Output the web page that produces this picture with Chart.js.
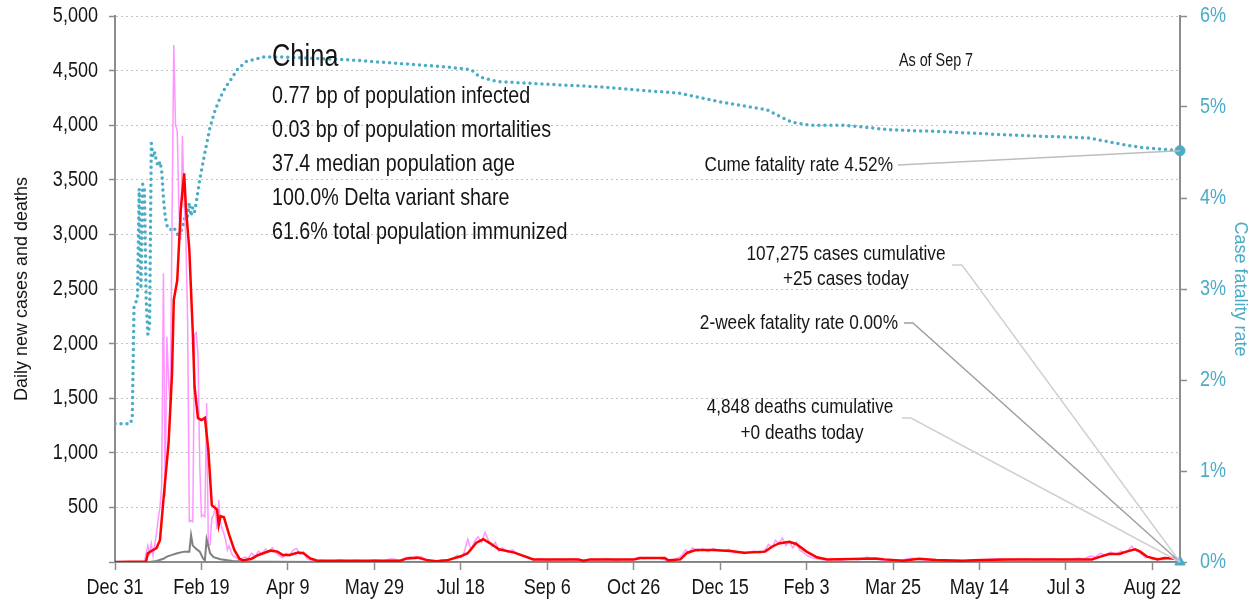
<!DOCTYPE html>
<html>
<head>
<meta charset="utf-8">
<script src="https://cdn.jsdelivr.net/npm/chart.js"></script>
<style>
  html, body { margin: 0; padding: 0; background: #fff; }
  #wrap { width: 1260px; height: 604px; }
</style>
</head>
<body>
<div id="wrap"><canvas id="chart" width="1260" height="604"></canvas></div>
<script>
// ---------- DATA (day 0 = Dec 31 2019) ----------
const tickLabels = ['Dec 31','Feb 19','Apr 9','May 29','Jul 18','Sep 6','Oct 26','Dec 15','Feb 3','Mar 25','May 14','Jul 3','Aug 22'];
const lastDay = 616;

// daily new cases (pink)
const caseDays = [0,10,17,19,20,21,22,23,24,25,26,27,28,29,30,31,32,33,34,35,36,37,38,39,40,41,42,43,44,45,46,47,48,49,50,51,52,53,54,55,56,57,58,59,60,61,62,63,64,65,66,67,68,70,72,75,77,79,81,83,85,87,89,91,93,95,97,99,101,103,105,107,109,111,113,116,120,125,130,135,140,145,150,155,160,165,168,171,174,177,180,183,186,189,192,195,198,200,202,204,206,208,210,212,214,216,218,220,222,224,227,230,233,236,239,242,246,250,255,260,265,270,275,280,285,290,295,300,303,306,310,315,320,325,328,330,332,334,337,340,343,346,349,352,355,358,361,364,367,370,373,376,378,380,382,384,386,388,390,392,394,396,398,400,403,406,410,415,420,425,430,435,438,442,447,452,457,462,467,472,477,482,487,492,497,502,507,512,517,522,527,532,537,542,547,552,557,561,564,567,570,573,576,579,582,585,588,590,592,594,596,598,600,603,606,609,612,614,616];
const dailyCases = [0,0,5,150,80,170,60,160,260,400,500,700,2645,600,2063,1650,1400,3160,4735,4000,3950,3200,2950,3900,3300,2960,2200,370,380,370,2080,2100,1900,900,415,430,415,1455,150,160,400,430,500,300,570,360,300,260,200,110,150,100,60,40,20,45,30,80,50,100,70,120,90,130,85,60,40,80,55,110,125,70,95,30,20,10,15,8,20,10,15,8,20,12,30,15,40,45,30,50,20,10,5,20,10,30,60,40,90,210,110,190,230,180,270,200,140,180,100,130,90,110,70,55,40,20,30,15,25,20,30,10,25,20,30,15,25,20,45,30,40,35,10,30,60,110,80,130,100,120,95,125,105,100,115,85,90,75,90,100,80,110,160,130,200,170,220,150,190,130,180,110,90,60,40,30,20,25,15,30,20,45,30,20,15,10,25,35,20,15,20,10,15,10,20,15,25,30,20,25,30,20,25,30,20,25,35,30,55,45,80,60,90,70,100,85,146,110,95,70,40,50,25,35,20,40,45,30,25];

// 7-day average cases (red)
const avgDays = [0,18,19,22,24,26,28,31,33,34,36,38,40,41,43,45,46,48,50,52,54,56,59,60,61,63,66,69,72,74,79,83,90,94,97,101,106,109,113,117,165,169,175,181,186,192,200,204,209,213,217,222,231,242,268,271,275,300,304,318,320,327,331,336,346,356,364,376,380,384,390,394,400,406,412,440,445,456,465,475,490,501,517,565,570,575,581,585,590,593,597,603,607,613,616];
const avgCases = [0,5,80,110,128,200,568,1090,1730,2400,2580,3220,3560,3250,2857,2100,1605,1317,1300,1320,1025,520,480,340,420,410,250,110,30,15,30,64,104,95,64,64,86,80,33,12,12,33,40,15,8,15,52,80,177,208,171,116,86,24,24,12,24,24,37,37,15,24,85,110,110,100,85,95,140,170,186,165,95,43,24,33,24,12,30,18,12,18,24,24,49,73,73,95,116,95,49,24,37,30,5];

// daily deaths (gray)
const deathDays = [0,20,24,28,30,33,36,40,43,44,45,47,49,51,52,53,55,57,61,68,75,90,120,616];
const dailyDeaths = [0,0,10,30,50,65,80,95,95,247,150,120,95,30,15,208,80,45,25,10,5,3,0,0];

// cumulative case fatality rate, % (teal, right axis)
const cfrDays = [0,9,10,11,12,13,14,15,16,17,18,19,20,21,22,23,24,25,26,27,28,29,30,32,34,36,38,40,41,42,43,44,45,46,47,49,52,55,58,61,64,67,71,76,86,96,134,192,206,211,221,240,281,327,349,377,383,392,402,422,448,477,520,563,585,596,616];
const cfrRates = [1.52,1.52,1.6,2.8,2.85,2.9,4.1,3.0,4.15,4.1,2.9,2.5,2.6,4.6,4.45,4.5,4.4,4.35,4.4,4.3,4.0,3.8,3.7,3.65,3.68,3.6,3.62,3.75,3.85,3.8,3.95,3.8,3.9,3.85,3.95,4.2,4.5,4.78,4.97,5.11,5.22,5.30,5.42,5.50,5.55,5.55,5.52,5.44,5.41,5.33,5.28,5.26,5.22,5.15,5.06,4.97,4.91,4.83,4.80,4.80,4.75,4.73,4.69,4.66,4.58,4.55,4.52];

const cumeRate = 4.52;
const twoWeekRate = 0.00;

const statLines = [
  '0.77 bp of population infected',
  '0.03 bp of population mortalities',
  '37.4 median population age',
  '100.0% Delta variant share',
  '61.6% total population immunized'
];

// ---------- helpers ----------
const SANS = "'Liberation Sans', Arial, sans-serif";
const TEAL = '#4bacc6';
const AXIS = '#8c8c8c';
const INK = '#151515';

function pairs(xs, ys) {
  return xs.map((d, i) => ({ x: d, y: ys[i] }));
}

// Arial-Narrow look: Liberation Sans squeezed horizontally
function narrow(ctx, text, x, y, size, align, color) {
  ctx.save();
  ctx.translate(x, y);
  ctx.scale(0.82, 1);
  ctx.font = `${size}px ${SANS}`;
  ctx.textAlign = align;
  ctx.textBaseline = 'middle';
  ctx.fillStyle = color || INK;
  ctx.fillText(text, 0, 0);
  ctx.restore();
}

const notesPlugin = {
  id: 'notes',
  afterDraw(chart) {
    const { ctx, scales: { x, y, y2 } } = chart;
    const ex = x.getPixelForValue(lastDay);
    const ey = y2.getPixelForValue(twoWeekRate);
    const cy = y2.getPixelForValue(cumeRate);

    // tick labels
    x.ticks.forEach(t => {
      narrow(ctx, tickLabels[Math.round(t.value / 50)] || '', x.getPixelForValue(t.value), 588, 22, 'center');
    });
    y.ticks.forEach(t => {
      if (t.value === 0) return;
      narrow(ctx, t.value.toLocaleString('en-US'), 98, y.getPixelForValue(t.value), 22, 'right');
    });
    y2.ticks.forEach(t => {
      narrow(ctx, t.value + '%', 1200, y2.getPixelForValue(t.value), 22, 'left', TEAL);
    });

    ctx.save();
    // leader lines
    function leader(x0, x1, yy, color) {
      ctx.beginPath();
      ctx.strokeStyle = color;
      ctx.lineWidth = 1.5;
      ctx.moveTo(x0, yy);
      ctx.lineTo(x1, yy);
      ctx.lineTo(ex, ey);
      ctx.stroke();
    }
    leader(952, 962, 265, '#d0d0d0');
    leader(904, 913, 323, '#a0a0a0');
    leader(902, 911, 418, '#d0d0d0');
    ctx.beginPath();
    ctx.strokeStyle = '#bdbdbd';
    ctx.lineWidth = 1.5;
    ctx.moveTo(898, 165);
    ctx.lineTo(ex, cy);
    ctx.stroke();
    ctx.restore();

    // title + stats
    narrow(ctx, 'China', 272, 57, 31, 'left');
    statLines.forEach((s, i) => narrow(ctx, s, 272, 96 + i * 34, 24, 'left'));

    // right-hand notes
    narrow(ctx, 'As of Sep 7', 936, 61, 17.5, 'center');
    narrow(ctx, 'Cume fatality rate ' + cumeRate.toFixed(2) + '%', 893, 165, 21, 'right');
    narrow(ctx, '2-week fatality rate ' + twoWeekRate.toFixed(2) + '%', 898, 323, 21, 'right');
    narrow(ctx, '107,275 cases cumulative', 846, 254, 21, 'center');
    narrow(ctx, '+25 cases today', 846, 279, 21, 'center');
    narrow(ctx, '4,848 deaths cumulative', 800, 407, 21, 'center');
    narrow(ctx, '+0 deaths today', 802, 433, 21, 'center');
  }
};

new Chart(document.getElementById('chart'), {
  type: 'line',
  data: {
    datasets: [
      { data: pairs(avgDays, avgCases), borderColor: '#ff0000', borderWidth: 2.5, pointRadius: 0, yAxisID: 'y' },
      { data: pairs(deathDays, dailyDeaths), borderColor: '#808080', borderWidth: 2, pointRadius: 0, yAxisID: 'y' },
      { data: pairs(caseDays, dailyCases), borderColor: '#ff96ff', borderWidth: 1.5, pointRadius: 0, yAxisID: 'y' },
      { data: pairs(cfrDays, cfrRates), borderColor: TEAL, borderWidth: 3.5, borderDash: [0, 6],
        borderCapStyle: 'round', pointRadius: 0, yAxisID: 'y2' },
      { data: [{ x: lastDay, y: cumeRate }], showLine: false, pointRadius: 5, pointBackgroundColor: TEAL,
        pointBorderColor: TEAL, yAxisID: 'y2', clip: false },
      { data: [{ x: lastDay, y: twoWeekRate }], showLine: false, pointStyle: 'triangle', pointRadius: 6,
        pointBackgroundColor: TEAL, pointBorderColor: TEAL, yAxisID: 'y2', clip: false }
    ]
  },
  options: {
    responsive: false,
    animation: false,
    devicePixelRatio: 1,
    layout: { padding: { top: 16, right: 0, bottom: 0, left: 0 } },
    plugins: { legend: { display: false }, tooltip: { enabled: false } },
    elements: { line: { tension: 0 } },
    scales: {
      x: {
        type: 'linear', min: 0, max: lastDay,
        afterFit: s => { s.height = 42; },
        border: { color: AXIS, width: 2 },
        grid: { drawOnChartArea: false, tickLength: 8, tickColor: AXIS, tickWidth: 1.5 },
        ticks: { display: false, stepSize: 50, includeBounds: false, autoSkip: false }
      },
      y: {
        position: 'left', min: 0, max: 5000,
        afterFit: s => { s.width = 115; },
        border: { color: AXIS, width: 2, dash: [2, 3] },
        grid: { color: '#c2c2c2', lineWidth: 1, tickLength: 6, tickColor: AXIS,
                tickWidth: 1.5, tickBorderDash: [6, 0] },
        ticks: { display: false, stepSize: 500 },
        title: { display: true, text: 'Daily new cases and deaths', color: INK,
                 font: { family: SANS, size: 18 }, padding: { top: 11, bottom: 0 } }
      },
      y2: {
        position: 'right', min: 0, max: 6,
        afterFit: s => { s.width = 80; },
        border: { color: AXIS, width: 2 },
        grid: { drawOnChartArea: false, tickLength: 7, tickColor: AXIS, tickWidth: 1.5 },
        ticks: { display: false, stepSize: 1 },
        title: { display: true, text: 'Case fatality rate', color: TEAL,
                 font: { family: SANS, size: 18 }, padding: { top: 9, bottom: 0 } }
      }
    }
  },
  plugins: [notesPlugin]
});
</script>
</body>
</html>
